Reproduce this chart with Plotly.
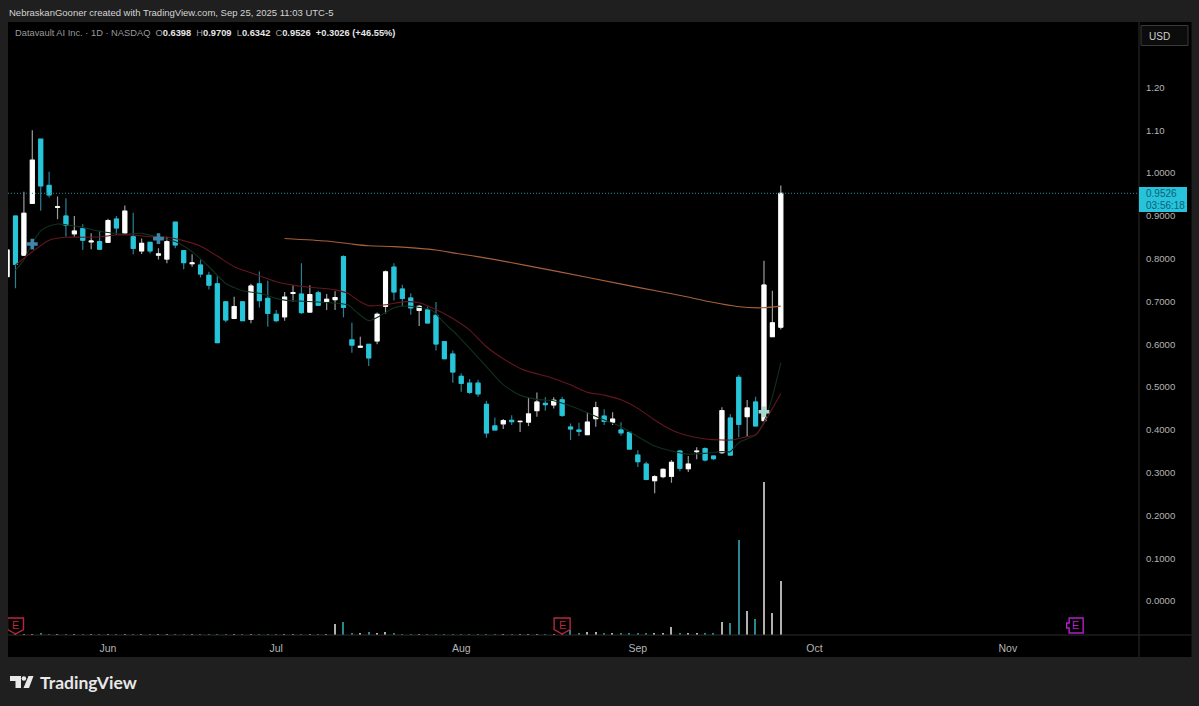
import plotly.graph_objects as go

# ---------- data ----------
day_index = list(range(-12, 81))
tick_days = [0, 20, 42, 63, 84, 107]
tick_months = ["Jun", "Jul", "Aug", "Sep", "Oct", "Nov"]
price_ticks = [1.2, 1.1, 1.0, 0.9, 0.8, 0.7, 0.6, 0.5, 0.4, 0.3, 0.2, 0.1, 0.0]
price_labels = ["1.20", "1.10", "1.0000", "0.9000", "0.8000", "0.7000", "0.6000",
                "0.5000", "0.4000", "0.3000", "0.2000", "0.1000", "0.0000"]

opens = [0.758, 0.8995, 0.808, 0.929, 1.079, 0.971, 0.9198, 0.8995, 0.858, 0.870, 0.839, 0.840,
         0.838, 0.8925, 0.860, 0.851, 0.818, 0.838, 0.808, 0.799, 0.885, 0.8185, 0.788, 0.785,
         0.761, 0.741, 0.699, 0.660, 0.699, 0.658, 0.741, 0.707, 0.670, 0.664, 0.7185, 0.717,
         0.675, 0.720, 0.700, 0.704, 0.8045, 0.610, 0.593, 0.5997, 0.6075, 0.6885, 0.780, 0.729,
         0.708, 0.679, 0.680, 0.6674, 0.606, 0.577, 0.525, 0.509, 0.509, 0.4595, 0.409, 0.414,
         0.4221, 0.4192, 0.418, 0.4447, 0.4618, 0.458, 0.470, 0.4065, 0.3995, 0.3886, 0.426, 0.432,
         0.418, 0.3995, 0.394, 0.341, 0.320, 0.281, 0.2905, 0.2913, 0.3505, 0.309, 0.349, 0.356,
         0.3388, 0.3466, 0.4276, 0.5226, 0.4307, 0.465, 0.4213, 0.6176, 0.6398]
highs = [0.820, 0.900, 0.956, 1.100, 1.079, 1.003, 0.945, 0.941, 0.8995, 0.880, 0.859, 0.865,
         0.893, 0.8995, 0.924, 0.907, 0.847, 0.8396, 0.824, 0.851, 0.885, 0.8185, 0.810, 0.798,
         0.769, 0.759, 0.699, 0.711, 0.699, 0.741, 0.770, 0.748, 0.680, 0.722, 0.738, 0.789,
         0.7375, 0.725, 0.717, 0.7235, 0.8076, 0.650, 0.6176, 0.5997, 0.674, 0.772, 0.789, 0.739,
         0.719, 0.6916, 0.688, 0.6986, 0.606, 0.585, 0.532, 0.5187, 0.517, 0.468, 0.429, 0.425,
         0.4338, 0.4198, 0.476, 0.487, 0.476, 0.476, 0.4774, 0.415, 0.4167, 0.440, 0.4657, 0.448,
         0.441, 0.4174, 0.394, 0.352, 0.3255, 0.2936, 0.310, 0.3294, 0.3505, 0.3388, 0.359, 0.359,
         0.340, 0.4525, 0.437, 0.528, 0.4696, 0.4774, 0.795, 0.725, 0.9709]
lows = [0.758, 0.7305, 0.806, 0.929, 0.912, 0.943, 0.892, 0.851, 0.851, 0.820, 0.822, 0.820,
        0.838, 0.855, 0.857, 0.810, 0.811, 0.812, 0.798, 0.789, 0.824, 0.775, 0.781, 0.756,
        0.728, 0.6036, 0.651, 0.660, 0.655, 0.649, 0.686, 0.641, 0.651, 0.655, 0.699, 0.6706,
        0.675, 0.689, 0.680, 0.680, 0.663, 0.580, 0.5927, 0.549, 0.600, 0.672, 0.702, 0.689,
        0.669, 0.6425, 0.6495, 0.585, 0.5646, 0.510, 0.489, 0.4836, 0.477, 0.3816, 0.3995, 0.402,
        0.411, 0.395, 0.409, 0.4307, 0.4447, 0.450, 0.430, 0.376, 0.3855, 0.3886, 0.4073, 0.411,
        0.411, 0.386, 0.355, 0.313, 0.282, 0.2516, 0.287, 0.2765, 0.303, 0.3014, 0.331, 0.326,
        0.3294, 0.3435, 0.341, 0.3824, 0.384, 0.409, 0.4213, 0.6176, 0.6342]
closes = [0.820, 0.7866, 0.906, 1.030, 0.970, 0.949, 0.921, 0.878, 0.8645, 0.843, 0.841, 0.822,
          0.889, 0.8715, 0.911, 0.824, 0.8357, 0.818, 0.811, 0.8396, 0.832, 0.7905, 0.790, 0.764,
          0.738, 0.6036, 0.6565, 0.688, 0.655, 0.736, 0.702, 0.672, 0.655, 0.710, 0.7205, 0.674,
          0.716, 0.691, 0.705, 0.709, 0.686, 0.598, 0.595, 0.568, 0.670, 0.769, 0.722, 0.707,
          0.685, 0.6885, 0.6495, 0.6005, 0.566, 0.535, 0.5086, 0.4875, 0.484, 0.3925, 0.3995, 0.4213,
          0.419, 0.4198, 0.437, 0.465, 0.4587, 0.469, 0.4338, 0.402, 0.3964, 0.418, 0.4517, 0.4198,
          0.425, 0.393, 0.355, 0.3255, 0.284, 0.2905, 0.3076, 0.324, 0.310, 0.320, 0.350, 0.3294,
          0.3326, 0.4447, 0.341, 0.4128, 0.451, 0.409, 0.7383, 0.650, 0.9526]
volumes = [1, 1, 1, 1, 1.4, 1, 1, 1, 1, 1, 1, 1, 1, 1, 1, 1, 1, 1, 1, 1,
           1, 1, 1, 1, 1, 1, 1, 1, 1, 1, 1, 1, 1, 1, 1, 1, 1, 1, 1,
           11, 13.3, 1.7, 1.5, 3, 2.3, 3, 1.5,
           1, 1, 1, 1, 1, 1, 1, 1, 1, 1, 1, 1, 1, 1, 1, 1, 1, 1, 1, 1,
           5, 1.7, 2.7, 2.7, 1.7, 1.3, 1.7, 1.3, 1.7, 1.3, 1.7, 1.3, 7.7, 2, 2, 2.3, 1.7, 1.3,
           13.3, 12, 95, 24.3, 15.7, 152.7, 21.7, 54]

green_days = [-11, -10, -9, -8, -7, -6, -5, -4, -3, -2, -1, 0, 2, 4, 6, 8, 10, 12, 14, 16, 18, 20, 21, 28.5,
              29.5, 31, 32.5, 34, 35, 37, 38.5, 40, 41.5, 43, 45, 47, 49, 51, 53, 55, 57, 59, 61, 63, 65,
              67, 69, 71, 73, 74, 75, 77, 78, 79, 80]
green_vals = [0.773, 0.797, 0.836, 0.865, 0.876, 0.881, 0.879, 0.876, 0.873, 0.868, 0.864, 0.861, 0.857, 0.859,
              0.85, 0.84, 0.816, 0.781, 0.742, 0.725, 0.719, 0.707, 0.703, 0.692, 0.676, 0.655, 0.668, 0.685,
              0.689, 0.686, 0.68, 0.649, 0.622, 0.59, 0.5475, 0.505, 0.481, 0.471, 0.468, 0.4556, 0.44, 0.423,
              0.407, 0.384, 0.362, 0.3505, 0.343, 0.345, 0.349, 0.349, 0.37, 0.388, 0.419, 0.477, 0.557]
red_days = [-11, -9, -7, -5, -3, -1, 1, 3, 5, 7, 9, 11, 13, 15, 17, 20, 22, 24, 27, 28.5, 30, 31, 33, 35, 37, 39,
            41, 43, 45, 47, 49.4, 53, 55, 57, 59, 61, 63, 65, 67, 69, 71, 73, 74, 76, 77, 78, 79, 80]
red_vals = [0.785, 0.816, 0.843, 0.85, 0.85, 0.851, 0.855, 0.855, 0.851, 0.85, 0.842, 0.829, 0.806, 0.781, 0.767,
            0.746, 0.738, 0.733, 0.727, 0.719, 0.699, 0.69, 0.692, 0.699, 0.697, 0.681, 0.66, 0.633, 0.594, 0.566,
            0.54, 0.52, 0.505, 0.4875, 0.481, 0.47, 0.45, 0.423, 0.3995, 0.386, 0.3785, 0.376, 0.376, 0.384,
            0.388, 0.415, 0.45, 0.485]
orange_days = [21, 26, 29, 31, 34, 37, 39, 41.5, 43.5, 45.4, 53.7, 60.9, 65.6, 68.8, 71.6, 74.8, 77.6, 80]
orange_vals = [0.847, 0.841, 0.834, 0.83, 0.828, 0.824, 0.82, 0.812, 0.806, 0.80, 0.769, 0.741, 0.723, 0.711,
               0.699, 0.688, 0.685, 0.689]
plus_days = [-9, 6, 78]
plus_vals = [0.834, 0.8466, 0.442]
last_price = 0.9526
earnings_days = [-11, 54]
future_earnings_days = [115]

# ---------- colours ----------
UP, DOWN = "#ffffff", "#26c6da"
UP_WICK, DOWN_WICK = "#9c9c9c", "#2b7f93"
TXT = "#b4b4b4"
PAPER = "#1f1f1f"
SANS = "Liberation Sans"

# ---------- page geometry ----------
W, H = 1199, 706
L, R, T, B = 8, 1139, 22, 635
px = lambda x: (x - L) / (R - L)
py = lambda y: (B - y) / (B - T)

fig = go.Figure()

fig.add_trace(go.Candlestick(
    x=day_index, open=opens, high=highs, low=lows, close=closes, whiskerwidth=0,
    increasing=dict(line=dict(color=UP_WICK, width=1.2), fillcolor=UP_WICK),
    decreasing=dict(line=dict(color=DOWN_WICK, width=1.2), fillcolor=DOWN_WICK),
    hoverinfo="skip", showlegend=False))
fig.add_trace(go.Candlestick(
    x=day_index, open=opens, close=closes,
    high=[max(o, c) for o, c in zip(opens, closes)],
    low=[min(o, c) for o, c in zip(opens, closes)], whiskerwidth=0,
    increasing=dict(line=dict(color=UP, width=1), fillcolor=UP),
    decreasing=dict(line=dict(color=DOWN, width=1), fillcolor=DOWN),
    hoverinfo="skip", showlegend=False))

for xs, ys, col in [(green_days, green_vals, "#10301c"),
                    (red_days, red_vals, "#64161e"),
                    (orange_days, orange_vals, "#a8603a")]:
    fig.add_trace(go.Scatter(x=xs, y=ys, mode="lines", hoverinfo="skip", showlegend=False,
                             line=dict(color=col, width=1.1, shape="spline", smoothing=0.6)))

fig.add_trace(go.Scatter(x=plus_days, y=plus_vals, mode="markers", hoverinfo="skip", showlegend=False,
                         marker=dict(symbol="cross", size=9, color=["#3f86a8", "#3f86a8", "#a8d8d0"])))

fig.add_trace(go.Bar(x=day_index, y=volumes, yaxis="y2", width=0.16, hoverinfo="skip", showlegend=False,
                     marker=dict(color=["#b0b0b0" if c >= o else "#2a8792" for o, c in zip(opens, closes)],
                                 line=dict(width=0))))

# frame and separators
fig.add_shape(type="rect", xref="paper", yref="paper", x0=0, x1=px(1191.5), y0=py(657), y1=1,
              fillcolor="#000000", line=dict(width=0), layer="below")
line_col = "#2c2c2c"
fig.add_shape(type="line", xref="paper", yref="paper", x0=1, x1=1, y0=py(657), y1=1,
              line=dict(color=line_col, width=1))
fig.add_shape(type="line", xref="paper", yref="paper", x0=0, x1=px(1191.5), y0=0, y1=0,
              line=dict(color=line_col, width=1))
# last price line
fig.add_shape(type="line", xref="paper", yref="y", x0=0, x1=1, y0=last_price, y1=last_price,
              line=dict(color="#2a8a9c", width=1, dash="1px,2px"))


def badge(day, color, path, fill="#000000"):
    fig.add_shape(type="path", xref="x", yref="y2", xsizemode="pixel", ysizemode="pixel",
                  xanchor=day, yanchor=0, path=path,
                  fillcolor=fill, line=dict(color=color, width=1.4))
    fig.add_annotation(x=day, y=10.5, xref="x", yref="y2", text="E", showarrow=False,
                       font=dict(color=color, size=11, family=SANS))


SHIELD = "M -8 17 L 8 17 L 8 5.5 L 0 1 L -8 5.5 Z"
TAG = "M -6 17 L 8 17 L 8 2 L -6 2 L -6 7 L -8.5 7 L -8.5 12 L -6 12 Z"
for d in earnings_days:
    badge(d, "#b8283c", SHIELD)
for d in future_earnings_days:
    badge(d, "#b41fc8", TAG)

# price tag
fig.add_shape(type="rect", xref="paper", yref="paper", x0=px(1139), x1=px(1187), y0=py(212), y1=py(187),
              fillcolor="#26c3da", line=dict(width=0))
for y, s in [(193.5, "0.9526"), (205, "03:56:18")]:
    fig.add_annotation(xref="paper", yref="paper", x=px(1144), y=py(y), xanchor="left", yanchor="middle",
                       text=s, showarrow=False, font=dict(color="#0d5f78", size=10, family=SANS))
# currency button
fig.add_shape(type="rect", xref="paper", yref="paper", x0=px(1141), x1=px(1188), y0=py(45.5), y1=py(25.5),
              line=dict(color="#3a3a3a", width=1), fillcolor="#0c0c0c")
fig.add_annotation(xref="paper", yref="paper", x=px(1147), y=py(36), xanchor="left", yanchor="middle",
                   text="USD", showarrow=False, font=dict(color="#d0d0d0", size=10, family=SANS))

# header texts
fig.add_annotation(xref="paper", yref="paper", x=px(7), y=py(12), xanchor="left", yanchor="middle",
                   text="NebraskanGooner created with TradingView.com, Sep 25, 2025 11:03 UTC-5",
                   showarrow=False, font=dict(color="#d4d4d4", size=9.5, family=SANS))
val = lambda s: "<span style='color:#e6e6e6'><b>" + s + "</b></span>"
fig.add_annotation(xref="paper", yref="paper", x=px(13), y=py(33), xanchor="left", yanchor="middle",
                   text="Datavault AI Inc. · 1D · NASDAQ  O" + val("0.6398") + "  H" + val("0.9709") + "  L" +
                        val("0.6342") + "  C" + val("0.9526") + "  " + val("+0.3026 (+46.55%)"),
                   showarrow=False, font=dict(color="#9a9a9a", size=9.3, family=SANS))

# TradingView logo
poly = lambda pts: "M " + " L ".join(f"{px(a):.5f} {py(b):.5f}" for a, b in pts) + " Z"
logo_col = "#e8e8e8"
for pts in ([(10, 676), (21, 676), (21, 688), (15.5, 688), (15.5, 681), (10, 681)],
            [(28.5, 676), (33.5, 676), (29, 688), (23.5, 688)]):
    fig.add_shape(type="path", xref="paper", yref="paper", path=poly(pts), fillcolor=logo_col, line=dict(width=0))
fig.add_shape(type="circle", xref="paper", yref="paper", x0=px(21.6), x1=px(26.2), y0=py(680.8), y1=py(676.2),
              fillcolor=logo_col, line=dict(width=0))
fig.add_annotation(xref="paper", yref="paper", x=px(37.5), y=py(682), xanchor="left", yanchor="middle",
                   text="<b>TradingView</b>", showarrow=False,
                   font=dict(color=logo_col, size=17.5, family="Lato"))

fig.update_layout(
    width=W, height=H, autosize=False,
    margin=dict(l=L, r=W - R, t=T, b=H - B, pad=0),
    paper_bgcolor=PAPER, plot_bgcolor="#000000",
    showlegend=False, boxgap=0.32, hovermode=False, bargap=0,
    font=dict(family=SANS, color=TXT, size=10.5),
    xaxis=dict(range=[(L - 108) / 8.41, (R - 108) / 8.41], tickmode="array", tickvals=tick_days,
               ticktext=tick_months, showgrid=False, zeroline=False, showline=False,
               rangeslider=dict(visible=False), ticks="outside", ticklen=3, tickcolor="rgba(0,0,0,0)",
               tickfont=dict(color=TXT, size=10.5)),
    yaxis=dict(range=[(601 - B) / 428, (601 - T) / 428], side="right", tickmode="array",
               tickvals=price_ticks, ticktext=price_labels, showgrid=False, zeroline=False, showline=False,
               ticks="outside", ticklen=4, tickcolor="rgba(0,0,0,0)", tickfont=dict(color=TXT, size=9.6)),
    yaxis2=dict(range=[0, B - T], overlaying="y", side="left", visible=False),
)

fig.write_html("out.html", config={"displayModeBar": False},
               post_script="document.body.style.margin='0';document.body.style.overflow='hidden';")
